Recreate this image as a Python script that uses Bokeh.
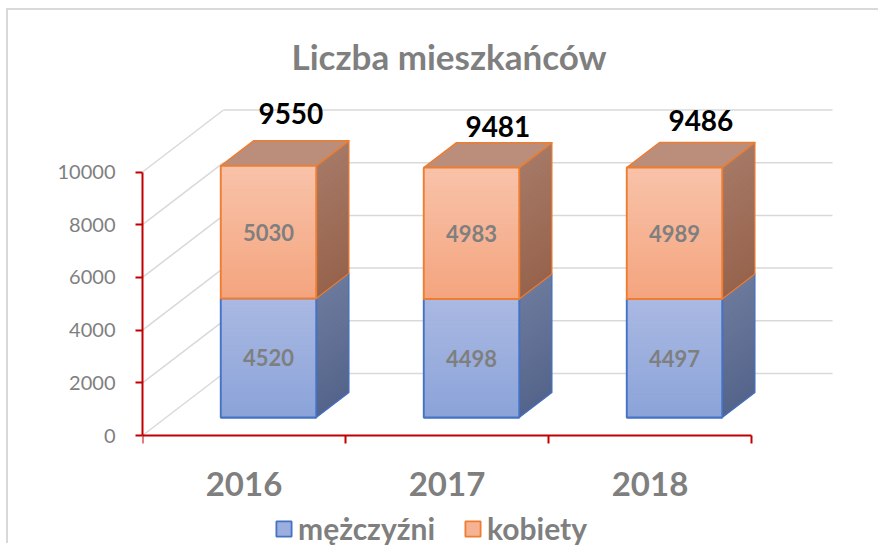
from bokeh.plotting import figure
from bokeh.models import (FixedTicker, Range1d, Legend, LegendItem, ColumnDataSource,
                          GlobalInlineStyleSheet)
from bokeh.embed import file_html
from bokeh.resources import INLINE
from bokeh.core.properties import value

# ---------------- data ----------------
years = ["2016", "2017", "2018"]
men = [4520, 4498, 4497]
women = [5030, 4983, 4989]
totals = [9550, 9481, 9486]
y_ticks = [0, 2000, 4000, 6000, 8000, 10000]
series_names = ["mężczyźni", "kobiety"]
title_text = "Liczba mieszkańców"

# ---------------- style / projection ----------------
FONT = "Lato"
GRAY = "#7F7F7F"
RED = "#C00000"
GRID = "#D9D9D9"
W, H = 882, 535
ML, MR, MT, MB = 134, 36, 87, 0
PX_X = 203.0                  # px per category
PX_Y = 263.5 / 10000.0        # px per unit value
ZERO_FROM_BOTTOM = 110.0      # px between value 0 and frame bottom
DX = 81.0 / PX_X              # full depth, x shift in data units
DY = 62.0 / PX_Y              # full depth, y shift in data units
D0, D1 = 0.29, 0.694          # bar depth span
BAR_L, BAR_R = 0.27, 0.74     # bar span within category
TOTAL_XOFF = [6, 10, 10]
TOTAL_YOFF = [-27, -16, -22]
NSTRIP = 28

BLUE = dict(front="#9CAEDD", front_top="#AAB9E2", front_bot="#8BA3D9",
            side_top="#6B7A9C", side_bot="#55648A", line="#4472C4")
ORANGE = dict(front="#F6B393", front_top="#F8C3AA", front_bot="#F4A47E",
              side_top="#A57966", side_bot="#97634D", top="#BB8E7B", line="#ED7D31")

frame_w = W - ML - MR
frame_h = H - MT - MB

p = figure(width=W, height=H, output_backend="svg", toolbar_location=None,
           x_range=Range1d(0, frame_w / PX_X),
           y_range=Range1d(-ZERO_FROM_BOTTOM / PX_Y, (frame_h - ZERO_FROM_BOTTOM) / PX_Y),
           min_border_left=ML, min_border_right=MR, min_border_top=MT, min_border_bottom=MB,
           title=title_text)
p.outline_line_color = None
p.xgrid.visible = False
p.ygrid.visible = False
p.background_fill_color = "white"
p.border_fill_color = "white"
p.styles = {"margin-left": "6px", "margin-top": "8px",
            "border-top": "2px solid #D9D9D9", "border-left": "2px solid #D9D9D9"}
p.stylesheets = [GlobalInlineStyleSheet(css="html, body { overflow: hidden; }")]

p.title.text_font = FONT
p.title.text_font_size = "35px"
p.title.text_font_style = "bold"
p.title.text_color = GRAY
p.title.align = "left"
p.title.offset = 149
p.title.standoff = 42

# ---------------- walls (gridlines) ----------------
n = len(years)
p.segment(x0=[0] * len(y_ticks), y0=y_ticks,
          x1=[DX] * len(y_ticks), y1=[v + DY for v in y_ticks],
          line_color=GRID, line_width=1.5)
p.segment(x0=[DX] * len(y_ticks), y0=[v + DY for v in y_ticks],
          x1=[n + DX] * len(y_ticks), y1=[v + DY for v in y_ticks],
          line_color=GRID, line_width=1.5)


# ---------------- helpers ----------------
def hex2rgb(h):
    h = h.lstrip("#")
    return tuple(int(h[k:k + 2], 16) for k in (0, 2, 4))


def mix(c_top, c_bot, f):
    a, b = hex2rgb(c_top), hex2rgb(c_bot)
    return "#%02x%02x%02x" % tuple(round(a[k] + (b[k] - a[k]) * f) for k in range(3))


def faces(bottoms, tops, with_top):
    front = dict(left=[], right=[], bottom=[], top=[], xc=[], yc=[])
    side = dict(xs=[], ys=[])
    top = dict(xs=[], ys=[])
    for i, (b, t) in enumerate(zip(bottoms, tops)):
        xl0 = i + BAR_L + D0 * DX
        xr0 = i + BAR_R + D0 * DX
        xl1 = i + BAR_L + D1 * DX
        xr1 = i + BAR_R + D1 * DX
        front["left"].append(xl0); front["right"].append(xr0)
        front["bottom"].append(b + D0 * DY); front["top"].append(t + D0 * DY)
        front["xc"].append((xl0 + xr0) / 2); front["yc"].append((b + t) / 2 + D0 * DY)
        side["xs"].append([xr0, xr0, xr1, xr1])
        side["ys"].append([b + D0 * DY, t + D0 * DY, t + D1 * DY, b + D1 * DY])
        if with_top:
            top["xs"].append([xl0, xr0, xr1, xl1])
            top["ys"].append([t + D0 * DY, t + D0 * DY, t + D1 * DY, t + D1 * DY])
    return front, side, top


def gradient_strips(bottoms, tops, c_top, c_bot, kind):
    xs, ys, cols = [], [], []
    for i, (b, t) in enumerate(zip(bottoms, tops)):
        for k in range(NSTRIP):
            f = (k + 0.5) / NSTRIP
            hi = t - (t - b) * k / NSTRIP
            lo = t - (t - b) * (k + 1.05) / NSTRIP
            lo = max(lo, b)
            if kind == "front":
                xa, xb = i + BAR_L + D0 * DX, i + BAR_R + D0 * DX
                xs.append([xa, xb, xb, xa])
                ys.append([lo + D0 * DY, lo + D0 * DY, hi + D0 * DY, hi + D0 * DY])
            else:
                xa, xb = i + BAR_R + D0 * DX, i + BAR_R + D1 * DX
                xs.append([xa, xa, xb, xb])
                ys.append([lo + D0 * DY, hi + D0 * DY, hi + D1 * DY, lo + D1 * DY])
            cols.append(mix(c_top, c_bot, f))
    return ColumnDataSource(dict(xs=xs, ys=ys, c=cols))


men_bottom = [0] * n
men_top = men
women_bottom = men
women_top = [m + w for m, w in zip(men, women)]

fb, sb, _ = faces(men_bottom, men_top, False)
fo, so, to = faces(women_bottom, women_top, True)

# side faces
for sd, bots, tps, col in ((sb, men_bottom, men_top, BLUE), (so, women_bottom, women_top, ORANGE)):
    p.patches(xs="xs", ys="ys", source=ColumnDataSource(sd),
              fill_color=mix(col["side_top"], col["side_bot"], 0.5), line_color=None)
    p.patches(xs="xs", ys="ys", source=gradient_strips(bots, tps, col["side_top"], col["side_bot"], "side"),
              fill_color="c", line_color=None)
    p.patches(xs="xs", ys="ys", source=ColumnDataSource(sd), fill_color=None,
              line_color=col["line"], line_width=1.2, line_join="round")

p.patches(xs="xs", ys="ys", source=ColumnDataSource(to), fill_color=ORANGE["top"],
          line_color=ORANGE["line"], line_width=1.5, line_join="round")

# front faces
src_b = ColumnDataSource(dict(fb, label=[str(v) for v in men]))
src_o = ColumnDataSource(dict(fo, label=[str(v) for v in women]))
renderers = []
for src, bots, tps, col in ((src_b, men_bottom, men_top, BLUE), (src_o, women_bottom, women_top, ORANGE)):
    r = p.quad(left="left", right="right", bottom="bottom", top="top", source=src,
               fill_color=col["front"], line_color=col["line"], line_width=1.8)
    renderers.append(r)
    p.patches(xs="xs", ys="ys", source=gradient_strips(bots, tps, col["front_top"], col["front_bot"], "front"),
              fill_color="c", line_color=None)
    p.quad(left="left", right="right", bottom="bottom", top="top", source=src,
           fill_color=None, line_color=col["line"], line_width=1.8)

for src in (src_b, src_o):
    p.text(x="xc", y="yc", text="label", source=src, text_align="center",
           text_baseline="middle", text_color=GRAY, text_font=value(FONT),
           text_font_size="22px", text_font_style="bold")

# totals above bars
tot_src = ColumnDataSource(dict(
    x=[i + (BAR_L + BAR_R) / 2 + (D0 + D1) / 2 * DX for i in range(n)],
    y=[t + D1 * DY for t in totals],
    text=[str(t) for t in totals],
    xo=TOTAL_XOFF, yo=TOTAL_YOFF))
p.text(x="x", y="y", text="text", x_offset="xo", y_offset="yo", source=tot_src,
       text_align="center", text_baseline="middle", text_color="black",
       text_font=value(FONT), text_font_size="28px", text_font_style="bold")

# ---------------- axes ----------------
yax = p.yaxis[0]
yax.ticker = FixedTicker(ticks=y_ticks, minor_ticks=[])
yax.bounds = (0, 10000)
yax.axis_line_color = RED
yax.axis_line_width = 2
yax.major_tick_line_color = RED
yax.major_tick_line_width = 2
yax.major_tick_out = 7
yax.major_tick_in = 0
yax.minor_tick_line_color = None
yax.major_label_text_font = FONT
yax.major_label_text_font_size = "20px"
yax.major_label_text_color = GRAY
yax.major_label_standoff = 20

xax = p.xaxis[0]
xax.fixed_location = 0
xax.ticker = FixedTicker(ticks=[i + 0.5 for i in range(n)], minor_ticks=list(range(n + 1)))
xax.major_label_overrides = {i + 0.5: y for i, y in enumerate(years)}
xax.bounds = (0, n)
xax.axis_line_color = RED
xax.axis_line_width = 2
xax.major_tick_line_color = None
xax.major_tick_out = 0
xax.major_tick_in = 0
xax.minor_tick_line_color = RED
xax.minor_tick_line_width = 2
xax.minor_tick_out = 8
xax.minor_tick_in = 0
xax.major_label_text_font = FONT
xax.major_label_text_font_size = "33px"
xax.major_label_text_font_style = "bold"
xax.major_label_text_color = GRAY
xax.major_label_standoff = 28

# ---------------- legend ----------------
legend = Legend(items=[LegendItem(label=series_names[0], renderers=[renderers[0]]),
                       LegendItem(label=series_names[1], renderers=[renderers[1]])],
                orientation="horizontal", location=(132, -1),
                border_line_color=None, background_fill_alpha=0,
                label_text_font=FONT, label_text_font_size="30px",
                label_text_font_style="bold", label_text_color=GRAY,
                glyph_width=19, glyph_height=19, label_standoff=5, spacing=28,
                padding=0, margin=0)
p.add_layout(legend, "center")

open("out.html", "w").write(file_html(p, INLINE))
